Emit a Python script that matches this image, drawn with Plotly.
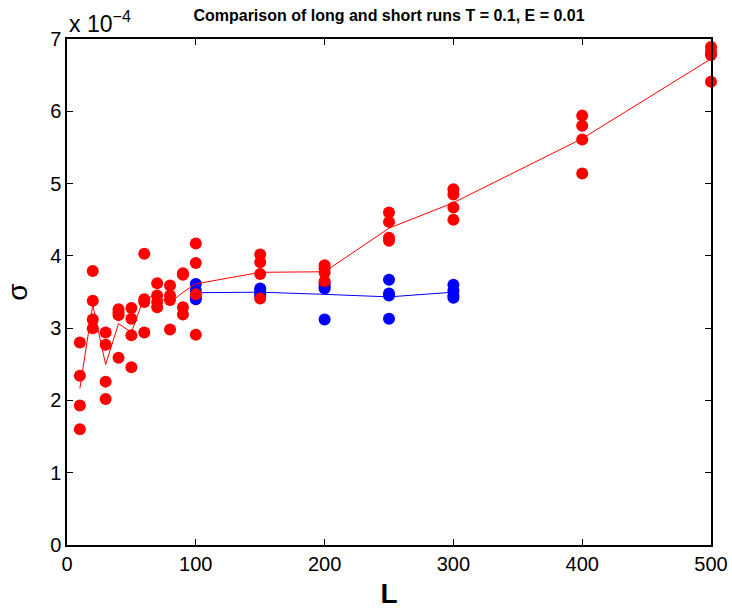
import numpy as np
import plotly.graph_objects as go

# sigma values in units of 1e-4
L_long = [10, 20, 30, 40, 50, 60, 70, 80, 90, 100, 150, 200, 250, 300, 400, 500]
sigma_long = [
    [2.80, 2.34, 1.93, 1.60],
    [3.79, 3.38, 3.12, 3.00],
    [2.94, 2.77, 2.26, 2.02],
    [3.26, 3.22, 3.18, 2.59],
    [3.28, 3.13, 2.90, 2.46],
    [4.03, 3.40, 3.36, 2.94],
    [3.62, 3.45, 3.36, 3.29],
    [3.59, 3.45, 3.39, 2.98],
    [3.76, 3.74, 3.29, 3.19],
    [4.17, 3.90, 3.47, 2.91],
    [4.02, 3.91, 3.75, 3.41],
    [3.87, 3.83, 3.77, 3.65],
    [4.60, 4.47, 4.25, 4.21],
    [4.92, 4.85, 4.67, 4.50],
    [5.94, 5.80, 5.61, 5.14],
    [6.89, 6.82, 6.78, 6.41],
]

L_short = [100, 150, 200, 250, 300]
sigma_short = [
    [3.61, 3.52, 3.43, 3.40],
    [3.55, 3.52, 3.47, 3.45],
    [3.62, 3.58, 3.55, 3.12],
    [3.67, 3.48, 3.45, 3.13],
    [3.60, 3.52, 3.45, 3.42],
]

x_ticks = [0, 100, 200, 300, 400, 500]
y_ticks = [0, 1, 2, 3, 4, 5, 6, 7]

RED = "#ff0000"
BLUE = "#0000ff"


def flatten(Ls, vals):
    xs, ys = [], []
    for L, vs in zip(Ls, vals):
        for v in vs:
            xs.append(L)
            ys.append(v)
    return xs, ys


fig = go.Figure()

bx, by = flatten(L_short, sigma_short)
fig.add_trace(go.Scatter(x=bx, y=by, mode="markers", cliponaxis=False,
                         marker=dict(color=BLUE, size=12, line=dict(width=0)),
                         showlegend=False))
fig.add_trace(go.Scatter(x=L_short, y=[float(np.mean(v)) for v in sigma_short],
                         mode="lines", line=dict(color=BLUE, width=1),
                         showlegend=False))

rx, ry = flatten(L_long, sigma_long)
fig.add_trace(go.Scatter(x=rx, y=ry, mode="markers", cliponaxis=False,
                         marker=dict(color=RED, size=12, line=dict(width=0)),
                         showlegend=False))
fig.add_trace(go.Scatter(x=L_long, y=[float(np.mean(v)) for v in sigma_long],
                         mode="lines", line=dict(color=RED, width=1),
                         showlegend=False))

axis_common = dict(
    showgrid=False, zeroline=False, showline=True, linecolor="black",
    linewidth=1.5, mirror="ticks", ticks="inside", ticklen=6, automargin=False,
    tickcolor="black", tickfont=dict(family="Liberation Sans, Arial", size=20, color="black"),
)

fig.update_layout(
    width=732, height=609,
    margin=dict(l=67, r=21, t=39, b=64),
    paper_bgcolor="white", plot_bgcolor="white",
    font=dict(family="Liberation Sans, Arial", color="black"),
    title=dict(text="<b>Comparison of long and short runs T = 0.1, E = 0.01</b>",
               x=0.5, xref="paper", xanchor="center", y=1 - 15 / 609, yanchor="middle",
               font=dict(size=16, family="Liberation Sans, Arial", color="black")),
    xaxis=dict(range=[0, 500], tickvals=x_ticks, ticktext=[str(t) for t in x_ticks],
               title=dict(text="<b>L</b>", font=dict(size=28), standoff=10),
               **axis_common),
    yaxis=dict(range=[0, 7], tickvals=y_ticks, ticktext=[str(t) for t in y_ticks],
               title=dict(text="σ", font=dict(size=28), standoff=14),
               **axis_common),
    annotations=[dict(text="x 10<sup>−4</sup>", xref="paper", yref="paper",
                      x=0, y=1, xanchor="left", yanchor="bottom", yshift=0,
                      showarrow=False,
                      font=dict(size=23, family="Liberation Sans, Arial", color="black"))],
)

fig.write_html("out.html")
